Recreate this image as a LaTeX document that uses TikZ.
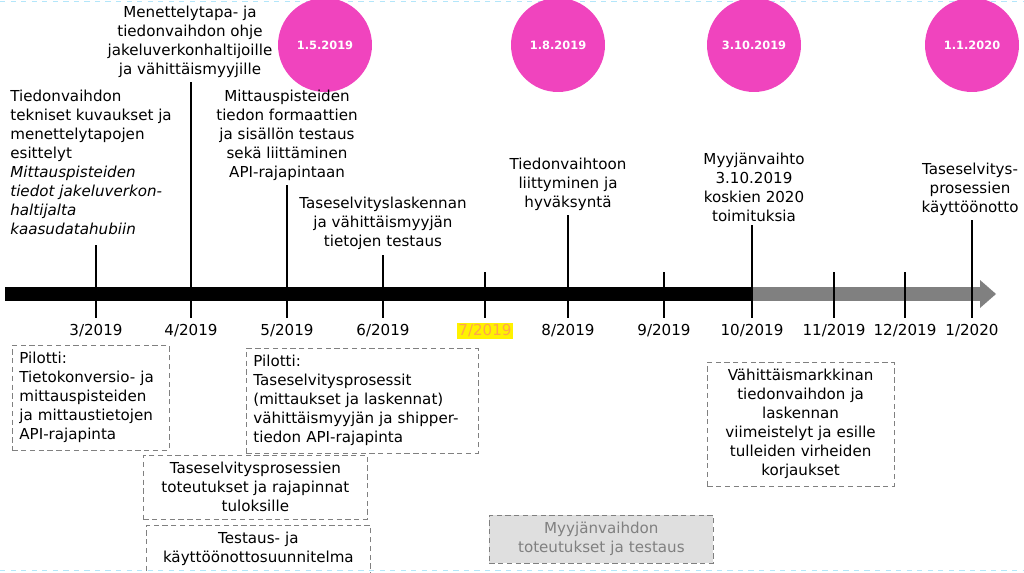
\documentclass[tikz,border=0pt]{standalone}
\usepackage{fontspec}
\setmainfont{DejaVu Sans}
\usetikzlibrary{arrows.meta}
\definecolor{dot}{RGB}{240,68,190}
\definecolor{barg}{RGB}{128,128,128}
\begin{document}
\begin{tikzpicture}[x=0.02cm,y=-0.02cm,
    txt/.style={font=\fontsize{8.6}{10.8}\selectfont, inner sep=0pt, align=center},
    box/.style={txt, draw=gray, densely dashed, inner sep=4pt},
    date/.style={circle, fill=dot, minimum size=1.88cm, font=\bfseries\fontsize{6.5}{8}\selectfont\rmfamily, text=white},
    month/.style={txt}]
    \useasboundingbox (0,0) rectangle (1024,572);
    \draw[cyan!30, dashed] (0,1) -- (1024,1);
    \draw[cyan!30, dashed] (0,570) -- (1024,570);

    % Dates
    \node[date] (d1) at (325,45) {1.5.2019};
    \node[date] (d2) at (558,45) {1.8.2019};
    \node[date] (d3) at (754,45) {3.10.2019};
    \node[date] (d4) at (972,45) {1.1.2020};

    % Timeline
    \fill (5,287) rectangle (752,301);
    \fill[barg] (752,287) rectangle (980,301);
    \fill[barg] (980,280) -- (996,294) -- (980,308) -- cycle;

    % Months
    \foreach \x/\m/\n in {96/3/m3,191/4/m4,287/5/m5,383/6/m6,568/8/m8,664/9/m9,752/10/m10}
      \node[month] (\n) at (\x,331) {\m/2019};
    \node[month, fill=yellow, text=orange!70, inner sep=1pt] (m7) at (485,331) {7/2019};
    \node[month] (m11) at (834,331) {11/2019};
    \node[month] (m12) at (905,331) {12/2019};
    \node[month] (m1) at (972,331) {1/2020};

    % Texts above
    \node[txt, align=left, anchor=north west] (t3) at (10,90) {Tiedonvaihdon\\tekniset kuvaukset ja\\menettelytapojen\\esittelyt\\\itshape Mittauspisteiden\\\itshape tiedot jakeluverkon-\\\itshape haltijalta\\\itshape kaasudatahubiin};
    \node[txt, anchor=south] (t4) at (190,78) {Menettelytapa- ja\\tiedonvaihdon ohje\\jakeluverkonhaltijoille\\ja vähittäismyyjille};
    \node[txt, anchor=south] (t5) at (287,181) {Mittauspisteiden\\tiedon formaattien\\ja sisällön testaus\\sekä liittäminen\\API-rajapintaan};
    \node[txt, anchor=south] (t6) at (383,250) {Taseselvityslaskennan\\ja vähittäismyyjän\\tietojen testaus};
    \node[txt, anchor=south] (t8) at (568,211) {Tiedonvaihtoon\\liittyminen ja\\hyväksyntä};
    \node[txt, anchor=south] (t10) at (754,222) {Myyjänvaihto\\3.10.2019\\koskien 2020\\toimituksia};
    \node[txt, anchor=south] (t1) at (970,216) {Taseselvitys-\\prosessien\\käyttöönotto};

    % Ticks
    \foreach \n/\t in {m3/245,m4/82,m5/185,m6/255,m8/215,m10/225,m1/220,m7/272,m9/272,m11/272,m12/272}
      \draw[line width=1.5pt] (\n.north |- 0,\t) -- (\n.north |- 0,318);

    % Boxes
    \node[box, align=left, text width=2.85cm, anchor=north west] (p1) at (12,345) {Pilotti:\\Tietokonversio- ja\\mittauspisteiden\\ja mittaustietojen\\API-rajapinta};
    \node[box, align=left, text width=4.35cm, anchor=north west] (p2) at (246,348) {Pilotti:\\Taseselvitysprosessit\\(mittaukset ja laskennat)\\vähittäismyyjän ja shipper-\\tiedon API-rajapinta};
    \node[box, text width=4.2cm, anchor=north west] (b1) at (143,455) {Taseselvitysprosessien\\toteutukset ja rajapinnat\\tuloksille};
    \node[box, text width=4.2cm, anchor=north west] (b2) at (146,525) {Testaus- ja\\käyttöönottosuunnitelma};
    \node[box, fill=gray!25, text=gray, text width=4.2cm, anchor=north west] (b3) at (489,515) {Myyjänvaihdon\\toteutukset ja testaus};
    \node[box, text width=3.45cm, anchor=north west] (b4) at (707,362) {Vähittäismarkkinan\\tiedonvaihdon ja\\laskennan\\viimeistelyt ja esille\\tulleiden virheiden\\korjaukset};
\end{tikzpicture}
\end{document}
